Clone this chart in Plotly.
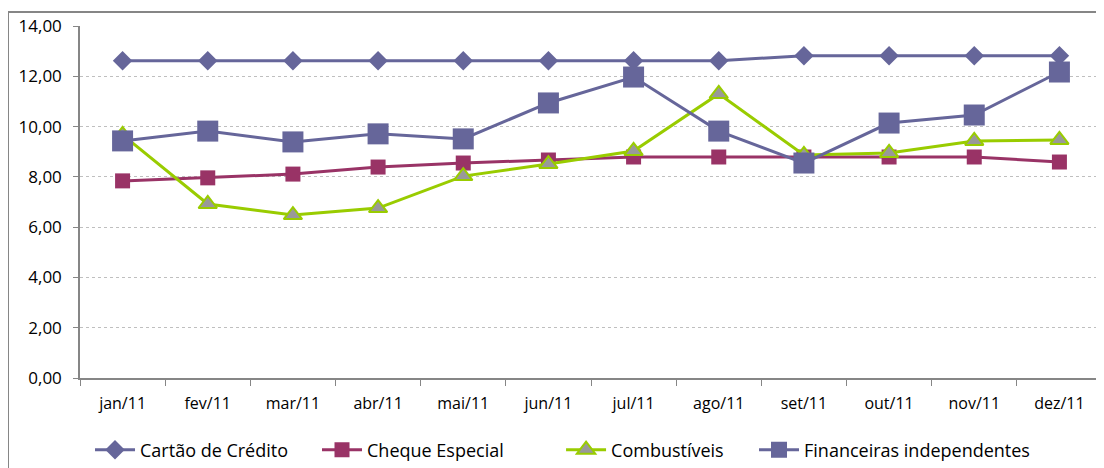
import plotly.graph_objects as go

meses = ["jan/11", "fev/11", "mar/11", "abr/11", "mai/11", "jun/11",
         "jul/11", "ago/11", "set/11", "out/11", "nov/11", "dez/11"]

cartao = [12.62, 12.62, 12.62, 12.62, 12.62, 12.62, 12.62, 12.62, 12.82, 12.82, 12.82, 12.82]
cheque = [7.84, 7.96, 8.11, 8.39, 8.55, 8.67, 8.79, 8.79, 8.79, 8.79, 8.79, 8.59]
combustiveis = [9.67, 6.92, 6.48, 6.76, 8.03, 8.51, 9.03, 11.30, 8.87, 8.95, 9.43, 9.47]
financeiras = [9.43, 9.82, 9.39, 9.71, 9.51, 10.94, 11.97, 9.82, 8.55, 10.14, 10.46, 12.17]

fig = go.Figure()

fig.add_trace(go.Scatter(
    x=meses, y=cartao, name="Cartão de Crédito", mode="lines+markers",
    line=dict(color="#66669A", width=3),
    marker=dict(symbol="diamond", size=15, color="#66669A"),
    legend="legend",
))
fig.add_trace(go.Scatter(
    x=meses, y=cheque, name="Cheque Especial", mode="lines+markers",
    line=dict(color="#993366", width=3),
    marker=dict(symbol="square", size=15, color="#993366"),
    legend="legend2",
))
fig.add_trace(go.Scatter(
    x=meses, y=combustiveis, name="Combustíveis", mode="lines+markers",
    line=dict(color="#99CC00", width=3),
    marker=dict(symbol="triangle-up", size=16, color="#999999",
                line=dict(color="#99CC00", width=2)),
    legend="legend3",
))
fig.add_trace(go.Scatter(
    x=meses, y=financeiras, name="Financeiras independentes", mode="lines+markers",
    line=dict(color="#66669A", width=3),
    marker=dict(symbol="square", size=21, color="#66669A"),
    legend="legend4",
))

# moldura externa do gráfico (em pixels a partir do canto da área do gráfico)
fig.add_shape(type="rect", xref="paper", yref="paper",
              xsizemode="pixel", ysizemode="pixel", xanchor=0, yanchor=1,
              x0=-72, x1=1100, y0=-500, y1=14,
              line=dict(color="#868686", width=2), layer="below")

leg = dict(orientation="h", y=-0.2045, yanchor="middle", xanchor="left",
           font=dict(size=18), itemwidth=40, bgcolor="rgba(0,0,0,0)")

fig.update_layout(
    width=1096, height=460,
    margin=dict(l=72, r=2, t=18, b=90, autoexpand=False),
    paper_bgcolor="white", plot_bgcolor="white",
    separators=",.",
    font=dict(family="Open Sans, sans-serif", size=16, color="#000000"),
    showlegend=True,
    legend=dict(leg, x=0.0098),
    legend2=dict(leg, x=0.2319),
    legend3=dict(leg, x=0.4707),
    legend4=dict(leg, x=0.6595),
)

fig.update_xaxes(
    type="category", range=[-0.5, 11.5], showgrid=False,
    showline=True, linecolor="#868686", linewidth=1.5,
    ticks="outside", tickson="boundaries", ticklen=6, tickcolor="#868686",
    tickfont=dict(size=16), ticklabelstandoff=10, automargin=False,
)
fig.update_yaxes(
    range=[0, 14], dtick=2, tickformat=".2f",
    showgrid=True, gridcolor="#BFBFBF", griddash="dot", gridwidth=1,
    showline=True, linecolor="#868686", linewidth=1.5,
    ticks="outside", ticklen=5, tickcolor="#868686",
    tickfont=dict(size=17), ticklabelstandoff=8, zeroline=False, automargin=False,
)

fig.write_html("out.html")
